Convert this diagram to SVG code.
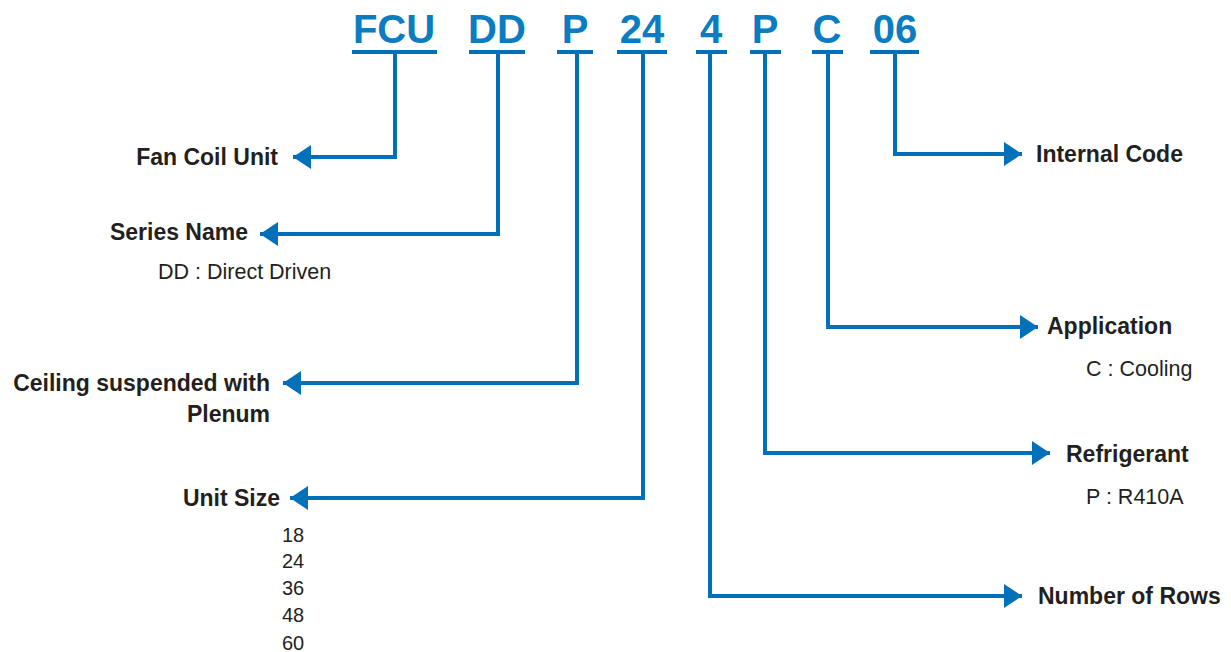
<svg xmlns="http://www.w3.org/2000/svg" width="1231" height="652" viewBox="0 0 1231 652">
<style>
.code{font-family:"Liberation Sans",Arial,sans-serif;font-weight:bold;font-size:40px;fill:#0A7CC1;text-anchor:middle}
.lbl{font-family:"Liberation Sans",Arial,sans-serif;font-weight:bold;font-size:23px;fill:#231F20}
.sub{font-family:"Liberation Sans",Arial,sans-serif;font-size:21.5px;fill:#231F20}
.num{font-family:"Liberation Sans",Arial,sans-serif;font-size:20px;fill:#231F20}
.r{text-anchor:end}
.conn{fill:none;stroke:#0070BA;stroke-width:4}
.ul{fill:#0070BA}
</style>
<defs>
<marker id="arr" markerUnits="userSpaceOnUse" markerWidth="20" markerHeight="24" refX="18" refY="12" orient="auto">
<path d="M0,0 L18,12 L0,24 Z" fill="#0070BA"/>
</marker>
</defs>
<g id="codes">
<g id="code-fcu"><text class="code" x="394" y="43">FCU</text><rect class="ul" x="352" y="50" width="85" height="4"/></g>
<g id="code-dd"><text class="code" x="497" y="43">DD</text><rect class="ul" x="469" y="50" width="56" height="4"/></g>
<g id="code-p1"><text class="code" x="575" y="43">P</text><rect class="ul" x="557" y="50" width="36" height="4"/></g>
<g id="code-24"><text class="code" x="642" y="43">24</text><rect class="ul" x="617" y="50" width="50" height="4"/></g>
<g id="code-4"><text class="code" x="711" y="43">4</text><rect class="ul" x="696" y="50" width="31" height="4"/></g>
<g id="code-p2"><text class="code" x="765" y="43">P</text><rect class="ul" x="750" y="50" width="31" height="4"/></g>
<g id="code-c"><text class="code" x="827" y="43">C</text><rect class="ul" x="812" y="50" width="31" height="4"/></g>
<g id="code-06"><text class="code" x="895" y="43">06</text><rect class="ul" x="870" y="50" width="49" height="4"/></g>
</g>
<g id="connectors">
<path class="conn" d="M395 54 V157 H293" marker-end="url(#arr)"/>
<path class="conn" d="M498 54 V234 H260" marker-end="url(#arr)"/>
<path class="conn" d="M577 54 V383 H283" marker-end="url(#arr)"/>
<path class="conn" d="M643 54 V498 H290" marker-end="url(#arr)"/>
<path class="conn" d="M710 54 V596 H1022" marker-end="url(#arr)"/>
<path class="conn" d="M765 54 V453 H1050" marker-end="url(#arr)"/>
<path class="conn" d="M828 54 V327 H1038" marker-end="url(#arr)"/>
<path class="conn" d="M895 54 V154 H1022" marker-end="url(#arr)"/>
</g>
<g id="fan-coil-unit"><text class="lbl r" x="278" y="165">Fan Coil Unit</text></g>
<g id="series-name"><text class="lbl r" x="248" y="240">Series Name</text><text class="sub" x="158" y="279">DD : Direct Driven</text></g>
<g id="ceiling"><text class="lbl r" x="270" y="391">Ceiling suspended with</text><text class="lbl r" x="270" y="422">Plenum</text></g>
<g id="unit-size"><text class="lbl r" x="280" y="506">Unit Size</text>
<text class="num" x="282" y="542">18</text><text class="num" x="282" y="568">24</text><text class="num" x="282" y="595">36</text><text class="num" x="282" y="622">48</text><text class="num" x="282" y="650">60</text></g>
<g id="internal-code"><text class="lbl" x="1036" y="162">Internal Code</text></g>
<g id="application"><text class="lbl" x="1047" y="334">Application</text><text class="sub" x="1086" y="376">C : Cooling</text></g>
<g id="refrigerant"><text class="lbl" x="1066" y="462">Refrigerant</text><text class="sub" x="1086" y="504">P : R410A</text></g>
<g id="rows"><text class="lbl" x="1038" y="604">Number of Rows</text></g>
</svg>
